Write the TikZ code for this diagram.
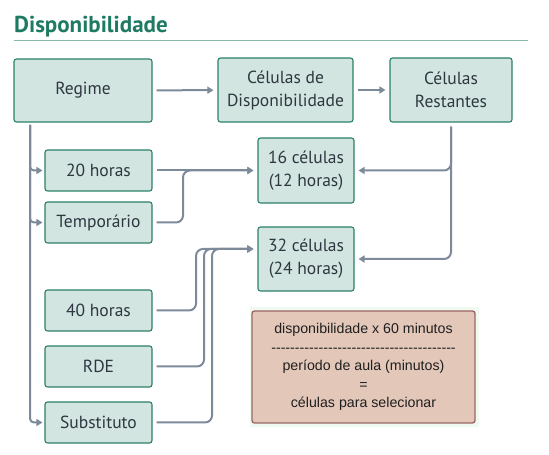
\documentclass[tikz,border=0pt]{standalone}
\usepackage{fontspec}
\setmainfont{PT Sans}
\newfontfamily\formulafont{Liberation Sans}
\usetikzlibrary{arrows.meta,calc}

\definecolor{boxfill}{HTML}{D2E5E1}
\definecolor{boxline}{HTML}{2A8068}
\definecolor{conngray}{HTML}{7D8A99}
\definecolor{txtgray}{HTML}{2E3740}
\definecolor{titlegreen}{HTML}{1F7A63}
\definecolor{ruleline}{HTML}{86BBAA}
\definecolor{formfill}{HTML}{E3C7B9}
\definecolor{formline}{HTML}{9A6565}
\definecolor{haze}{HTML}{F1FAF1}

\begin{document}
\begin{tikzpicture}[x=1pt,y=1pt,>={Triangle[length=6pt,width=7pt]},
    cell/.style={draw=boxline,line width=1.1pt,rounded corners=2.5pt,fill=boxfill,align=center,
      text=txtgray,font=\fontsize{17.5}{23}\selectfont,inner sep=0pt},
    formula/.style={draw=formline,line width=1.3pt,rounded corners=2.5pt,fill=formfill,align=center,
      text=black!88,font=\formulafont\fontsize{14.2}{18.6}\selectfont,inner sep=0pt},
    conn/.style={->,line width=2pt,conngray,rounded corners=7pt,shorten <=4pt,shorten >=4pt},
    stub/.style={->,line width=2pt,conngray,rounded corners=4pt,shorten >=2pt}]
  \useasboundingbox (0,0) rectangle (549,455);

  % heading
  \node[anchor=base west,inner sep=0pt,text=titlegreen,font=\bfseries\fontsize{23}{23}\selectfont] (title) at (14,422) {Disponibilidade};
  \draw[ruleline,line width=0.8pt] (14,415) -- (528,415);

  % top row
  \node[cell,minimum width=138pt,minimum height=63pt] (regime) at (83,364.5) {Regime};
  \node[cell,minimum width=135pt,minimum height=64pt] (celdisp) at (285.5,365) {Células de\\Disponibilidade};
  \node[cell,minimum width=122pt,minimum height=64pt] (restantes) at (451,365) {Células\\Restantes};

  % regimes
  \node[cell,minimum width=107pt,minimum height=41pt] (h20) at (98.5,284.5) {20 horas};
  \node[cell,minimum width=107pt,minimum height=41pt] (temp) at (98.5,232.5) {Temporário};
  \node[cell,minimum width=107pt,minimum height=41pt] (h40) at (98.5,144.5) {40 horas};
  \node[cell,minimum width=107pt,minimum height=41pt] (rde) at (98.5,88.5) {RDE};
  \node[cell,minimum width=107pt,minimum height=41pt] (subst) at (98.5,32.5) {Substituto};

  % results
  \node[cell,minimum width=96pt,minimum height=65pt] (c16) at (306,284.5) {16 células\\(12 horas)};
  \node[cell,minimum width=96pt,minimum height=64pt] (c32) at (306,196) {32 células\\(24 horas)};

  % formula
  \fill[haze] (250,28) rectangle (479,148);
  \node[formula,minimum width=223pt,minimum height=112pt] (calc) at (363.5,88)
    {disponibilidade x 60 minutos\\---------------------------------------\\período de aula (minutos)\\=\\células para selecionar};

  \coordinate (trunk) at (30,330);
  \coordinate (m16) at (183,284.5);
  \coordinate (in32) at ($(c32.west)+(0,10)$);

  % top row flow
  \draw[conn] (regime) -- (celdisp);
  \draw[conn] (celdisp) -- (restantes);

  % trunk from Regime
  \draw[stub] (trunk) |- (h20.west);
  \draw[stub] (trunk) |- (temp.west);
  \draw[stub] (trunk) |- (subst.west);

  % to 16 celulas
  \draw[conn] (h20.east) -- (c16.west);
  \draw[conn] (temp.east) -| (m16) -- (c16.west);
  \draw[conn] (restantes.south) |- (c16.east);

  % to 32 celulas
  \draw[conn] (h40.east) -| (196,206) -- (in32);
  \draw[conn] (rde.east) -| (204,206) -- (in32);
  \draw[conn] (subst.east) -| (212,206) -- (in32);
  \draw[conn] (restantes.south) |- (c32.east);
\end{tikzpicture}
\end{document}
